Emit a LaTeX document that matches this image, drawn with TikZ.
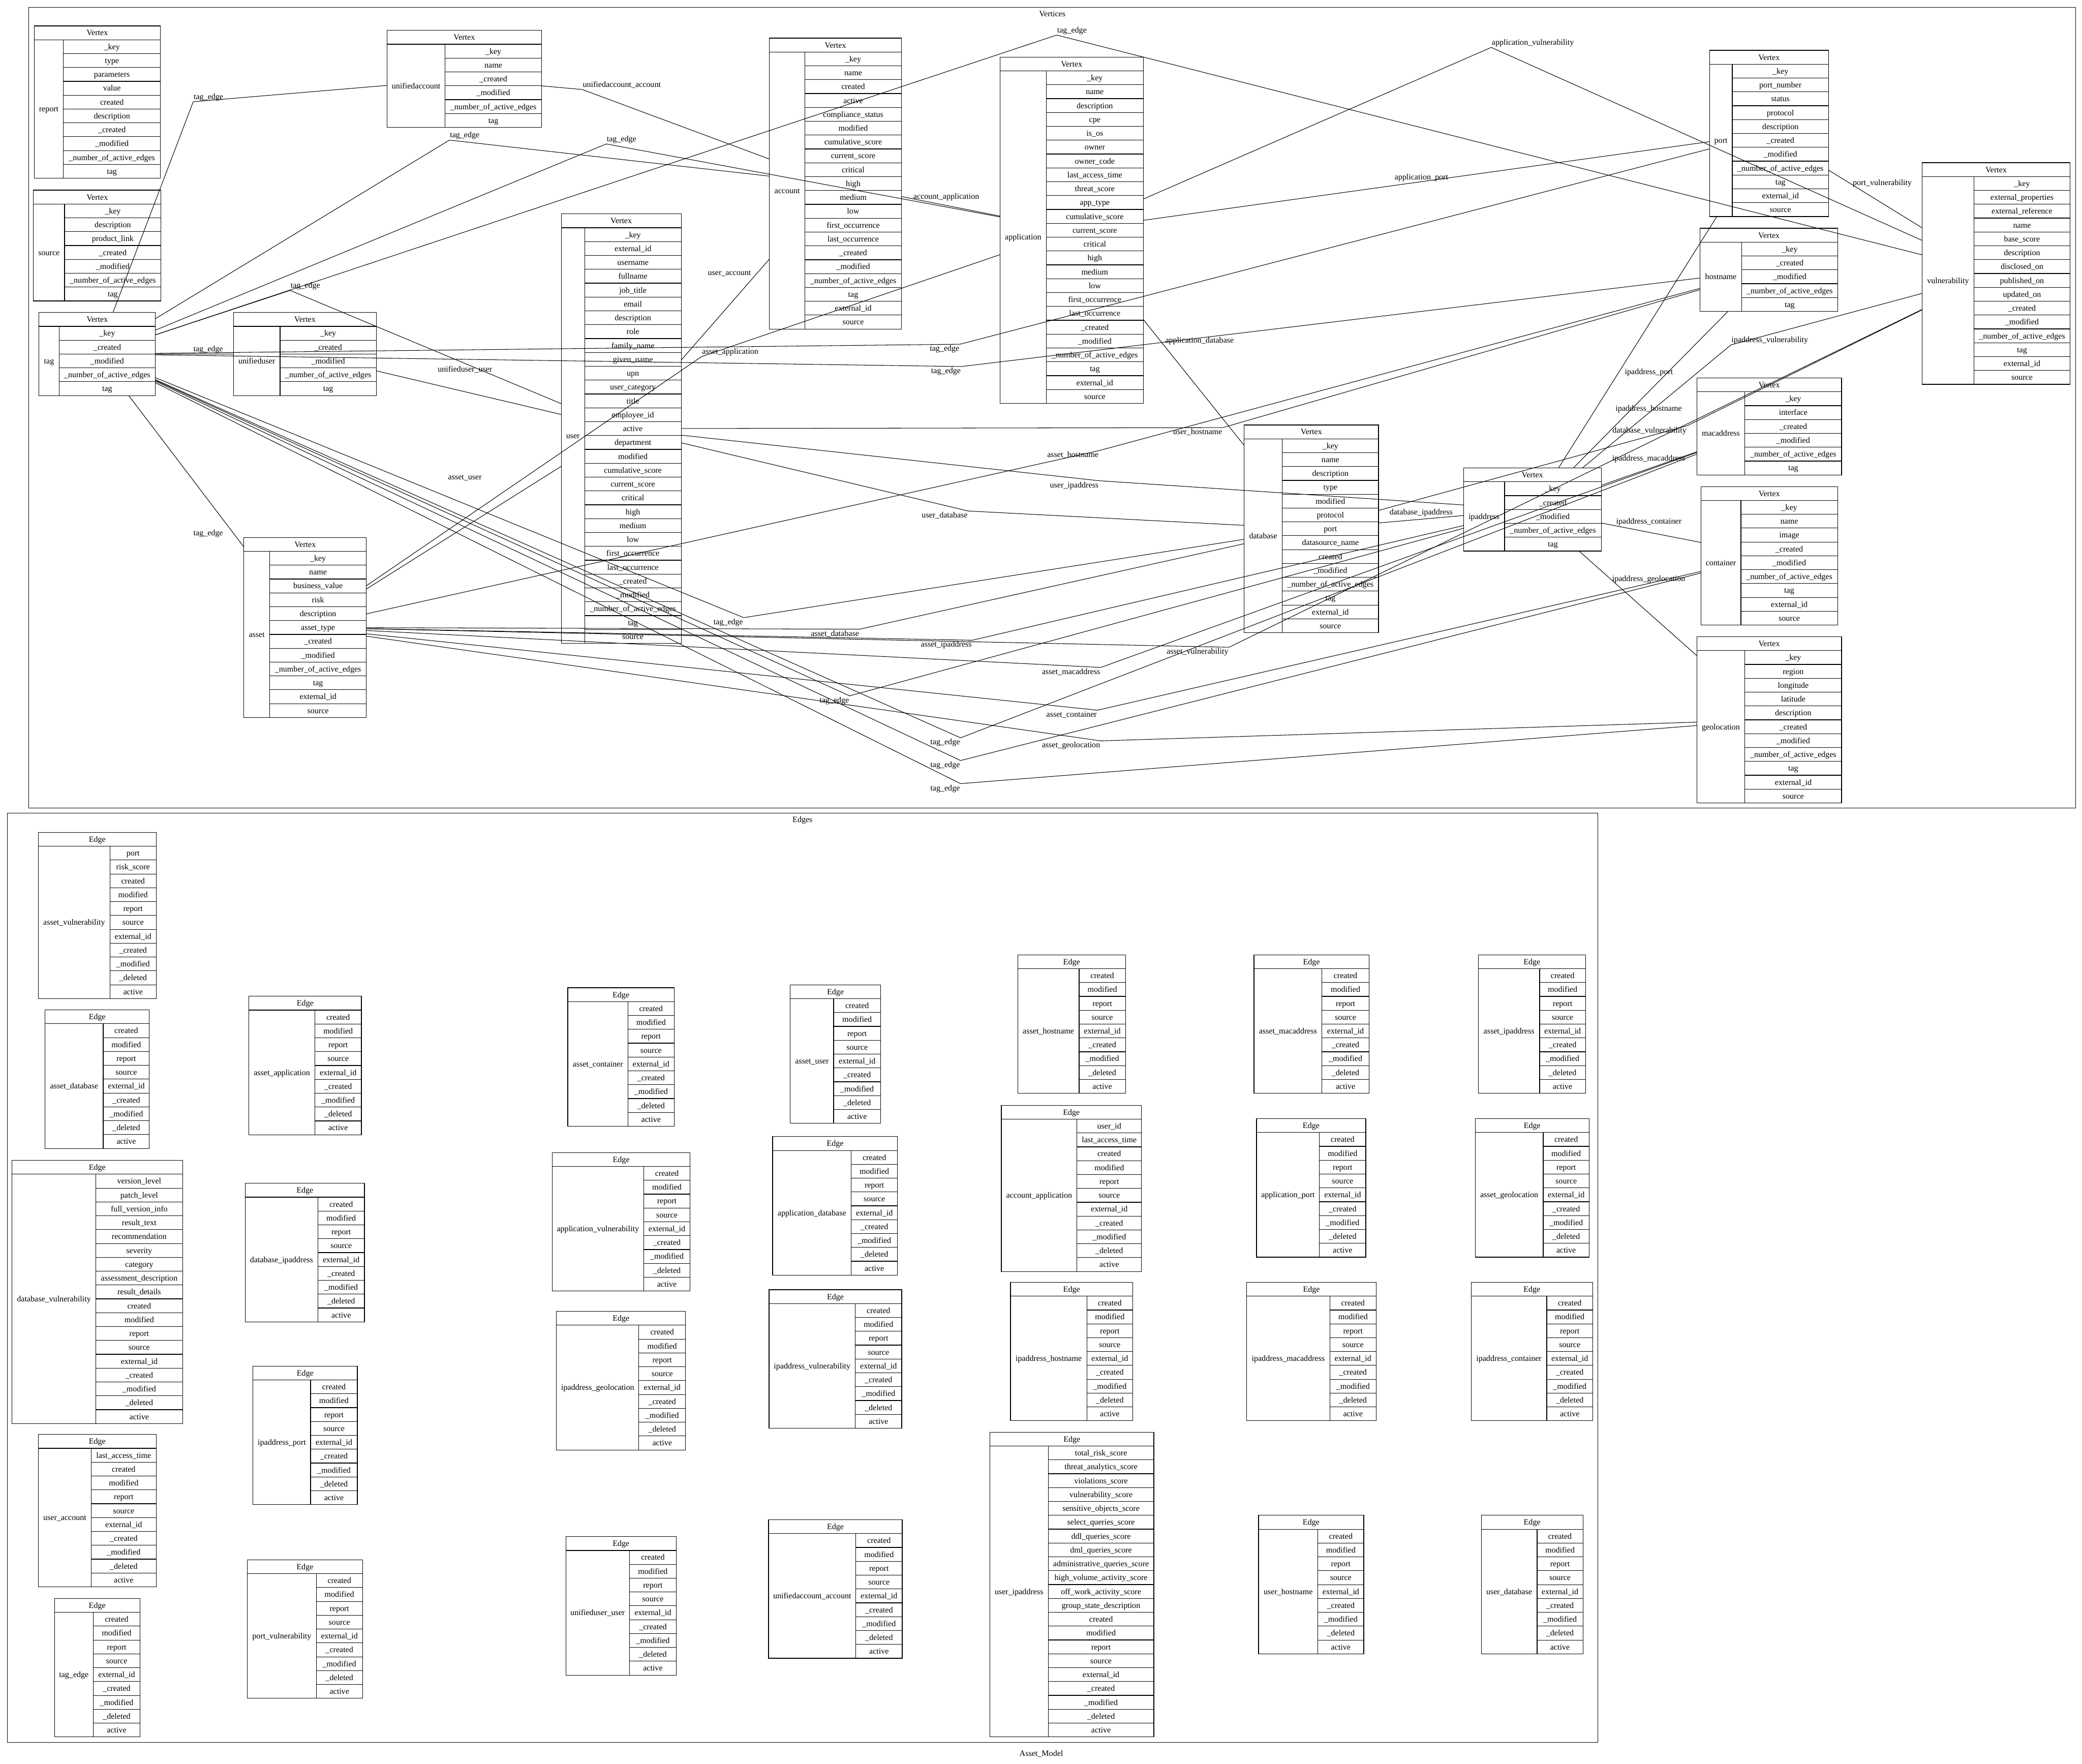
\documentclass[tikz,border=0pt]{standalone}
\usepackage{fontspec}
\setmainfont{Liberation Serif}
\catcode`\_=12
\newcommand\tfs{\fontsize{6.15pt}{7pt}\selectfont}
\def\rh{10.43}
\def\stdrows{created,modified,report,source,external_id,_created,_modified,_deleted,active}
\tikzset{
  tblbox/.style={rectangle, draw=none, inner sep=0pt, outer sep=0pt},
  tline/.style={line width=0.45pt, black},
  txt/.style={font=\tfs, inner sep=0pt, text height=5.48pt, text depth=1.33pt},
  lbl/.style={txt},
  conn/.style={line width=0.4pt, black},
  cluster/.style={line width=0.5pt, black},
  ttl/.style={font=\tfs, inner sep=0pt, anchor=base}
}
% #1 name #2 left #3 top #4 split #5 right #6 header #7 label #8 rows
\newcommand\tbl[8]{%
  \edef\rowlist{#8}%
  \foreach \r [count=\k] in \rowlist {\xdef\nr{\k}}%
  \pgfmathsetmacro\tb{#3+(\nr+1)*\rh}%
  \pgfmathsetmacro\cx{(#2+#5)/2}%
  \pgfmathsetmacro\cy{(#3+\tb)/2}%
  \pgfmathsetmacro\tw{#5-#2}%
  \pgfmathsetmacro\th{\tb-#3}%
  \node[tblbox, minimum width=\tw pt, minimum height=\th pt] (#1) at (\cx,\cy) {};
  \draw[tline] (#2,#3) rectangle (#5,\tb);
  \draw[tline] (#2,#3+\rh) -- (#5,#3+\rh);
  \draw[tline] (#4,#3+\rh) -- (#4,\tb);
  \node[txt] (#1-h) at (\cx,{#3+0.5*\rh}) {#6};
  \node[txt] (#1-n) at ({(#2+#4)/2},{(#3+\rh+\tb)/2}) {#7};
  \foreach \r [count=\k] in \rowlist {
    \node[txt] (#1-\k) at ({(#4+#5)/2},{#3+(\k+0.5)*\rh}) {\r};
    \ifnum\k>1 \draw[tline] (#4,{#3+\k*\rh}) -- (#5,{#3+\k*\rh}); \fi
  }%
}
\begin{document}
\begin{tikzpicture}[x=1pt,y=-1pt]
\useasboundingbox (0,0) rectangle (1568,1328);
\fill[white] (0,0) rectangle (1568,1328);

% clusters
\draw[cluster] (21.6,5.5) rectangle (1563.3,608.4);
\node[ttl] (tvert) at (792.5,12.3) {Vertices};
\draw[cluster] (5.5,612.3) rectangle (1203.4,1312.0);
\node[ttl] (tedge) at (604.4,619.0) {Edges};
\node[ttl] (tmodel) at (784.2,1322.4) {Asset_Model};

% vertex tables
\tbl{report}{25.7}{19.5}{47.8}{120.8}{Vertex}{report}{_key,type,parameters,value,created,description,_created,_modified,_number_of_active_edges,tag}
\tbl{source}{25.2}{143.2}{48.6}{121.3}{Vertex}{source}{_key,description,product_link,_created,_modified,_number_of_active_edges,tag}
\tbl{tag}{29.4}{235.3}{44.5}{117.0}{Vertex}{tag}{_key,_created,_modified,_number_of_active_edges,tag}
\tbl{uuser}{175.9}{235.3}{210.9}{283.4}{Vertex}{unifieduser}{_key,_created,_modified,_number_of_active_edges,tag}
\tbl{uacct}{291.5}{22.9}{335.3}{407.8}{Vertex}{unifiedaccount}{_key,name,_created,_modified,_number_of_active_edges,tag}
\tbl{account}{579.5}{28.7}{606.2}{678.9}{Vertex}{account}{_key,name,created,active,compliance_status,modified,cumulative_score,current_score,critical,high,medium,low,first_occurrence,last_occurrence,_created,_modified,_number_of_active_edges,tag,external_id,source}
\tbl{user}{422.7}{161.1}{440.3}{513.0}{Vertex}{user}{_key,external_id,username,fullname,job_title,email,description,role,family_name,given_name,upn,user_category,title,employee_id,active,department,modified,cumulative_score,current_score,critical,high,medium,low,first_occurrence,last_occurrence,_created,_modified,_number_of_active_edges,tag,source}
\tbl{app}{753.1}{43.0}{788.0}{861.0}{Vertex}{application}{_key,name,description,cpe,is_os,owner,owner_code,last_access_time,threat_score,app_type,cumulative_score,current_score,critical,high,medium,low,first_occurrence,last_occurrence,_created,_modified,_number_of_active_edges,tag,external_id,source}
\tbl{asset}{183.7}{404.7}{203.1}{275.9}{Vertex}{asset}{_key,name,business_value,risk,description,asset_type,_created,_modified,_number_of_active_edges,tag,external_id,source}
\tbl{db}{937.0}{320.0}{965.7}{1038.2}{Vertex}{database}{_key,name,description,type,modified,protocol,port,datasource_name,created,_modified,_number_of_active_edges,tag,external_id,source}
\tbl{ip}{1102.2}{352.4}{1133.1}{1205.9}{Vertex}{ipaddress}{_key,_created,_modified,_number_of_active_edges,tag}
\tbl{port}{1287.5}{37.9}{1304.6}{1377.1}{Vertex}{port}{_key,port_number,status,protocol,description,_created,_modified,_number_of_active_edges,tag,external_id,source}
\tbl{host}{1280.4}{171.9}{1311.6}{1384.1}{Vertex}{hostname}{_key,_created,_modified,_number_of_active_edges,tag}
\tbl{mac}{1277.9}{284.6}{1314.1}{1386.9}{Vertex}{macaddress}{_key,interface,_created,_modified,_number_of_active_edges,tag}
\tbl{cont}{1281.0}{366.4}{1311.1}{1383.9}{Vertex}{container}{_key,name,image,_created,_modified,_number_of_active_edges,tag,external_id,source}
\tbl{geo}{1277.9}{479.5}{1314.1}{1386.9}{Vertex}{geolocation}{_key,region,longitude,latitude,description,_created,_modified,_number_of_active_edges,tag,external_id,source}
\tbl{vuln}{1447.6}{122.5}{1486.6}{1559.0}{Vertex}{vulnerability}{_key,external_properties,external_reference,name,base_score,description,disclosed_on,published_on,updated_on,_created,_modified,_number_of_active_edges,tag,external_id,source}

% edge tables
\tbl{e-avuln}{28.9}{626.8}{82.8}{117.6}{Edge}{asset_vulnerability}{port,risk_score,\stdrows}
\tbl{e-adb}{34.0}{760.5}{77.7}{112.5}{Edge}{asset_database}{\stdrows}
\tbl{e-dbvuln}{9.0}{873.8}{72.2}{137.5}{Edge}{database_vulnerability}{version_level,patch_level,full_version_info,result_text,recommendation,severity,category,assessment_description,result_details,\stdrows}
\tbl{e-uacc}{28.9}{1080.2}{68.7}{117.6}{Edge}{user_account}{last_access_time,\stdrows}
\tbl{e-tag}{41.0}{1203.7}{70.3}{105.4}{Edge}{tag_edge}{\stdrows}
\tbl{e-aapp}{187.5}{750.2}{237.1}{272.2}{Edge}{asset_application}{\stdrows}
\tbl{e-dbip}{184.7}{891.1}{239.4}{274.5}{Edge}{database_ipaddress}{\stdrows}
\tbl{e-ipport}{190.6}{1028.7}{233.9}{269.1}{Edge}{ipaddress_port}{\stdrows}
\tbl{e-portvuln}{186.3}{1174.6}{238.2}{273.0}{Edge}{port_vulnerability}{\stdrows}
\tbl{e-acont}{427.6}{743.8}{472.9}{507.7}{Edge}{asset_container}{\stdrows}
\tbl{e-appvuln}{415.9}{867.9}{484.7}{519.8}{Edge}{application_vulnerability}{\stdrows}
\tbl{e-ipgeo}{419.1}{987.5}{481.1}{516.3}{Edge}{ipaddress_geolocation}{\stdrows}
\tbl{e-uuu}{426.1}{1157.1}{474.1}{509.3}{Edge}{unifieduser_user}{\stdrows}
\tbl{e-auser}{595.2}{741.6}{627.8}{663.2}{Edge}{asset_user}{\stdrows}
\tbl{e-appdb}{581.9}{855.9}{641.0}{676.0}{Edge}{application_database}{\stdrows}
\tbl{e-ipvuln}{579.2}{971.2}{644.1}{679.1}{Edge}{ipaddress_vulnerability}{\stdrows}
\tbl{e-uaa}{578.8}{1144.4}{644.5}{679.5}{Edge}{unifiedaccount_account}{\stdrows}
\tbl{e-ahost}{766.5}{719.0}{812.7}{847.6}{Edge}{asset_hostname}{\stdrows}
\tbl{e-accapp}{754.1}{832.3}{811.1}{859.7}{Edge}{account_application}{user_id,last_access_time,\stdrows}
\tbl{e-iphost}{761.0}{965.6}{818.5}{853.1}{Edge}{ipaddress_hostname}{\stdrows}
\tbl{e-uip}{745.5}{1078.5}{789.4}{869.0}{Edge}{user_ipaddress}{total_risk_score,threat_analytics_score,violations_score,vulnerability_score,sensitive_objects_score,select_queries_score,ddl_queries_score,dml_queries_score,administrative_queries_score,high_volume_activity_score,off_work_activity_score,group_state_description,\stdrows}
\tbl{e-amac}{944.4}{719.0}{995.6}{1031.0}{Edge}{asset_macaddress}{\stdrows}
\tbl{e-appport}{946.3}{842.4}{993.7}{1028.6}{Edge}{application_port}{\stdrows}
\tbl{e-ipmac}{938.9}{965.6}{1001.5}{1036.4}{Edge}{ipaddress_macaddress}{\stdrows}
\tbl{e-uhost}{947.8}{1141.1}{992.5}{1027.1}{Edge}{user_hostname}{\stdrows}
\tbl{e-aip}{1113.3}{719.0}{1159.5}{1194.1}{Edge}{asset_ipaddress}{\stdrows}
\tbl{e-ageo}{1111.0}{842.4}{1162.2}{1196.8}{Edge}{asset_geolocation}{\stdrows}
\tbl{e-ipcont}{1107.9}{965.6}{1164.9}{1199.5}{Edge}{ipaddress_container}{\stdrows}
\tbl{e-udb}{1115.6}{1141.1}{1157.6}{1192.1}{Edge}{user_database}{\stdrows}

% bend points
\coordinate (b1) at (145.5,76.6);
\coordinate (b2) at (338.5,105.5);
\coordinate (b3) at (456.6,108.4);
\coordinate (b4) at (795.8,26.4);
\coordinate (b5) at (218.5,218.7);
\coordinate (b7) at (723.0,259.2);
\coordinate (b8) at (724.0,276.0);
\coordinate (b10) at (560.1,465.1);
\coordinate (b11) at (639.9,524.0);
\coordinate (b12) at (723.4,555.6);
\coordinate (b13) at (723.4,572.7);
\coordinate (b14) at (723.4,590.1);
\coordinate (b15) at (438.5,67.4);
\coordinate (b17) at (1123.1,35.7);
\coordinate (b22) at (528.4,268.5);
\coordinate (b25) at (920.9,322.0);
\coordinate (b26) at (827.8,339.3);
\coordinate (b27) at (827.8,362.0);
\coordinate (b28) at (729.2,384.8);
\coordinate (b30) at (1270.6,320.6);
\coordinate (b34) at (1303.6,259.7);
\coordinate (b37) at (647.4,473.8);
\coordinate (b38) at (732.3,482.1);
\coordinate (b39) at (925.6,487.4);
\coordinate (b40) at (829.0,502.6);
\coordinate (b41) at (826.5,534.8);
\coordinate (b42) at (829.0,557.9);

% connectors with bends
\draw[conn] (tag) -- (b1) -- (uacct);
\draw[conn] (tag) -- (b2) -- (account);
\draw[conn] (tag) -- (b3) -- (app);
\draw[conn] (tag) -- (b4) -- (vuln);
\draw[conn] (tag) -- (b5) -- (user);
\draw[conn] (tag) -- (b7) -- (port);
\draw[conn] (tag) -- (b8) -- (host);
\draw[conn] (tag) -- (b10) -- (db);
\draw[conn] (tag) -- (b11) -- (ip);
\draw[conn] (tag) -- (b12) -- (mac);
\draw[conn] (tag) -- (b13) -- (cont);
\draw[conn] (tag) -- (b14) -- (geo);
\draw[conn] (uacct) -- (b15) -- (account);
\draw[conn] (app) -- (b17) -- (vuln);
\draw[conn] (asset) -- (b22) -- (app);
\draw[conn] (user) -- (b25) -- (host);
\draw[conn] (asset) -- (b26) -- (host);
\draw[conn] (user) -- (b27) -- (ip);
\draw[conn] (user) -- (b28) -- (db);
\draw[conn] (db) -- (b30) -- (vuln);
\draw[conn] (ip) -- (b34) -- (vuln);
\draw[conn] (asset) -- (b37) -- (db);
\draw[conn] (asset) -- (b38) -- (ip);
\draw[conn] (asset) -- (b39) -- (vuln);
\draw[conn] (asset) -- (b40) -- (mac);
\draw[conn] (asset) -- (b41) -- (cont);
\draw[conn] (asset) -- (b42) -- (geo);

% straight connectors
\draw[conn] (tag) -- (uuser);
\draw[conn] (tag) -- (asset);
\draw[conn] (account) -- (app);
\draw[conn] (app) -- (port);
\draw[conn] (port) -- (vuln);
\draw[conn] (app) -- (db);
\draw[conn] (user) -- (account);
\draw[conn] (uuser) -- (user);
\draw[conn] (asset) -- (user);
\draw[conn] (db) -- (ip);
\draw[conn] (ip) -- (port);
\draw[conn] (ip) -- (host);
\draw[conn] (ip) -- (mac);
\draw[conn] (ip) -- (cont);
\draw[conn] (ip) -- (geo);

% labels at bends (south west of bend)
\node[lbl, anchor=base west] (l1) at ([shift={(0.2,-1.8)}]b1) {tag_edge};
\node[lbl, anchor=base west] (l2) at ([shift={(0.2,-1.8)}]b2) {tag_edge};
\node[lbl, anchor=base west] (l3) at ([shift={(0.2,-1.8)}]b3) {tag_edge};
\node[lbl, anchor=base west] (l4) at ([shift={(0.2,-1.8)}]b4) {tag_edge};
\node[lbl, anchor=base west] (l5) at ([shift={(0.2,-1.8)}]b5) {tag_edge};
\node[lbl, anchor=base west] (l15) at ([shift={(0.2,-1.8)}]b15) {unifiedaccount_account};
\node[lbl, anchor=base west] (l17) at ([shift={(0.2,-1.8)}]b17) {application_vulnerability};
\node[lbl, anchor=base west] (l22) at ([shift={(0.2,-1.8)}]b22) {asset_application};
\node[lbl, anchor=base west] (l34) at ([shift={(0.2,-1.8)}]b34) {ipaddress_vulnerability};
% labels at bends (north east of bend)
\node[lbl, anchor=base east] (l7) at ([shift={(-0.3,5.2)}]b7) {tag_edge};
\node[lbl, anchor=base east] (l8) at ([shift={(-0.3,5.2)}]b8) {tag_edge};
\node[lbl, anchor=base east] (l10) at ([shift={(-0.3,5.2)}]b10) {tag_edge};
\node[lbl, anchor=base east] (l11) at ([shift={(-0.3,5.2)}]b11) {tag_edge};
\node[lbl, anchor=base east] (l12) at ([shift={(-0.3,5.2)}]b12) {tag_edge};
\node[lbl, anchor=base east] (l13) at ([shift={(-0.3,5.2)}]b13) {tag_edge};
\node[lbl, anchor=base east] (l14) at ([shift={(-0.3,5.2)}]b14) {tag_edge};
\node[lbl, anchor=base east] (l25) at ([shift={(-0.3,5.2)}]b25) {user_hostname};
\node[lbl, anchor=base east] (l26) at ([shift={(-0.3,5.2)}]b26) {asset_hostname};
\node[lbl, anchor=base east] (l27) at ([shift={(-0.3,5.2)}]b27) {user_ipaddress};
\node[lbl, anchor=base east] (l28) at ([shift={(-0.3,5.2)}]b28) {user_database};
\node[lbl, anchor=base east] (l30) at ([shift={(-0.3,5.2)}]b30) {database_vulnerability};
\node[lbl, anchor=base east] (l37) at ([shift={(-0.3,5.2)}]b37) {asset_database};
\node[lbl, anchor=base east] (l38) at ([shift={(-0.3,5.2)}]b38) {asset_ipaddress};
\node[lbl, anchor=base east] (l39) at ([shift={(-0.3,5.2)}]b39) {asset_vulnerability};
\node[lbl, anchor=base east] (l40) at ([shift={(-0.3,5.2)}]b40) {asset_macaddress};
\node[lbl, anchor=base east] (l41) at ([shift={(-0.3,5.2)}]b41) {asset_container};
\node[lbl, anchor=base east] (l42) at ([shift={(-0.3,5.2)}]b42) {asset_geolocation};
% labels of straight connectors
\node[lbl, anchor=base west] (l6) at (145.5,264.9) {tag_edge};
\node[lbl, anchor=base west] (l9) at (145.5,403.4) {tag_edge};
\node[lbl, anchor=base west] (l16) at (687.7,149.7) {account_application};
\node[lbl, anchor=base west] (l18) at (1050.1,135.4) {application_port};
\node[lbl, anchor=base west] (l19) at (1395.2,139.5) {port_vulnerability};
\node[lbl, anchor=base west] (l20) at (877.4,258.1) {application_database};
\node[lbl, anchor=base west] (l21) at (532.9,207.1) {user_account};
\node[lbl, anchor=base west] (l23) at (329.5,280.2) {unifieduser_user};
\node[lbl, anchor=base west] (l24) at (337.3,361.3) {asset_user};
\node[lbl, anchor=base west] (l29) at (1046.3,387.6) {database_ipaddress};
\node[lbl, anchor=base west] (l31) at (1223.5,282.1) {ipaddress_port};
\node[lbl, anchor=base west] (l32) at (1216.5,309.4) {ipaddress_hostname};
\node[lbl, anchor=base west] (l33) at (1214.0,347.1) {ipaddress_macaddress};
\node[lbl, anchor=base west] (l35) at (1217.0,394.5) {ipaddress_container};
\node[lbl, anchor=base west] (l36) at (1214.0,437.7) {ipaddress_geolocation};
\end{tikzpicture}
\end{document}
